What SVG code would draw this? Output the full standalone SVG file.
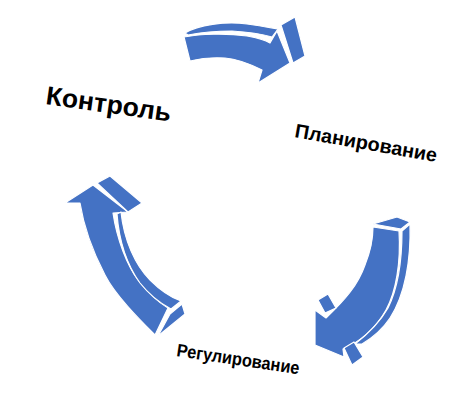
<svg xmlns="http://www.w3.org/2000/svg" width="474" height="407" viewBox="0 0 474 407">
<style>
.a{fill:#4472C4;stroke:#ffffff;stroke-width:1.2;stroke-linejoin:round}
.t{font-family:"Liberation Sans",Arial,sans-serif;font-weight:bold;fill:#000000}
</style>
<rect width="474" height="407" fill="#ffffff"/>
<g id="connectors">
<g id="arrow-top">
<path class="a" d="M185,33 C198,25 225,21 247,24 C262,26 272,28 278,29 L272,37 C262,34 250,32 232,31 C212,31 198,33 188,35 Z"/>
<path class="a" d="M184,37 C200,34 225,33 247,36 C258,38 265,40 270,43 L277,31 L290,63 L258,83 L262,70 C250,64 238,59 225,58 C210,57 198,59 190,61 Z"/>
<path class="a" d="M281,25 L295,17 L305,56 L293,63 Z"/>
</g>
<g id="arrow-right">
<path class="a" d="M373,224 L397,217 L410,222 L401,229 Z"/>
<path class="a" d="M373,227 L399,231 C401,262 396,292 386,310 C376,328 360,342 343,349 L344,357 L315,345 L315,310 L326,318 C345,300 358,285 365,265 C371,250 373,240 373,227 Z"/>
<path class="a" d="M402,231 L410,224 C411,260 405,295 390,318 C382,330 372,338 362,344 L355,344 C368,334 380,322 388,308 C397,290 402,262 402,231 Z"/>
<path class="a" d="M318,300 L328,294 L336,308 L325,313 Z"/>
<path class="a" d="M344,348 L354,342 L363,357 L352,365 Z"/>
</g>
<g id="arrow-left">
<path class="a" d="M65,203 L93,185 L128,212 L113,213 C117,240 127,265 138,280 C148,293 158,302 168,308 L155,335 C140,320 115,295 105,275 C93,252 84,228 80,203 Z"/>
<path class="a" d="M97,183 L110,176 L142,203 L128,212 Z"/>
<path class="a" d="M117,214 L121,212 C124,240 135,265 150,280 C160,290 170,297 181,301 L171,309 C158,302 148,293 140,283 C127,265 119,240 117,214 Z"/>
<path class="a" d="M158,336 L170,314 L182,304 L185,314 Z"/>
</g>
</g>
<g id="node-kontrol">
<text class="t" font-size="26" transform="translate(45,104) rotate(8)" textLength="126" lengthAdjust="spacingAndGlyphs">Контроль</text>
</g>
<g id="node-planirovanie">
<text class="t" font-size="19.5" transform="translate(294,137) rotate(10)" textLength="144" lengthAdjust="spacingAndGlyphs">Планирование</text>
</g>
<g id="node-regulirovanie">
<text class="t" font-size="18" transform="translate(176,356) rotate(8.5)" textLength="124" lengthAdjust="spacingAndGlyphs">Регулирование</text>
</g>
</svg>
